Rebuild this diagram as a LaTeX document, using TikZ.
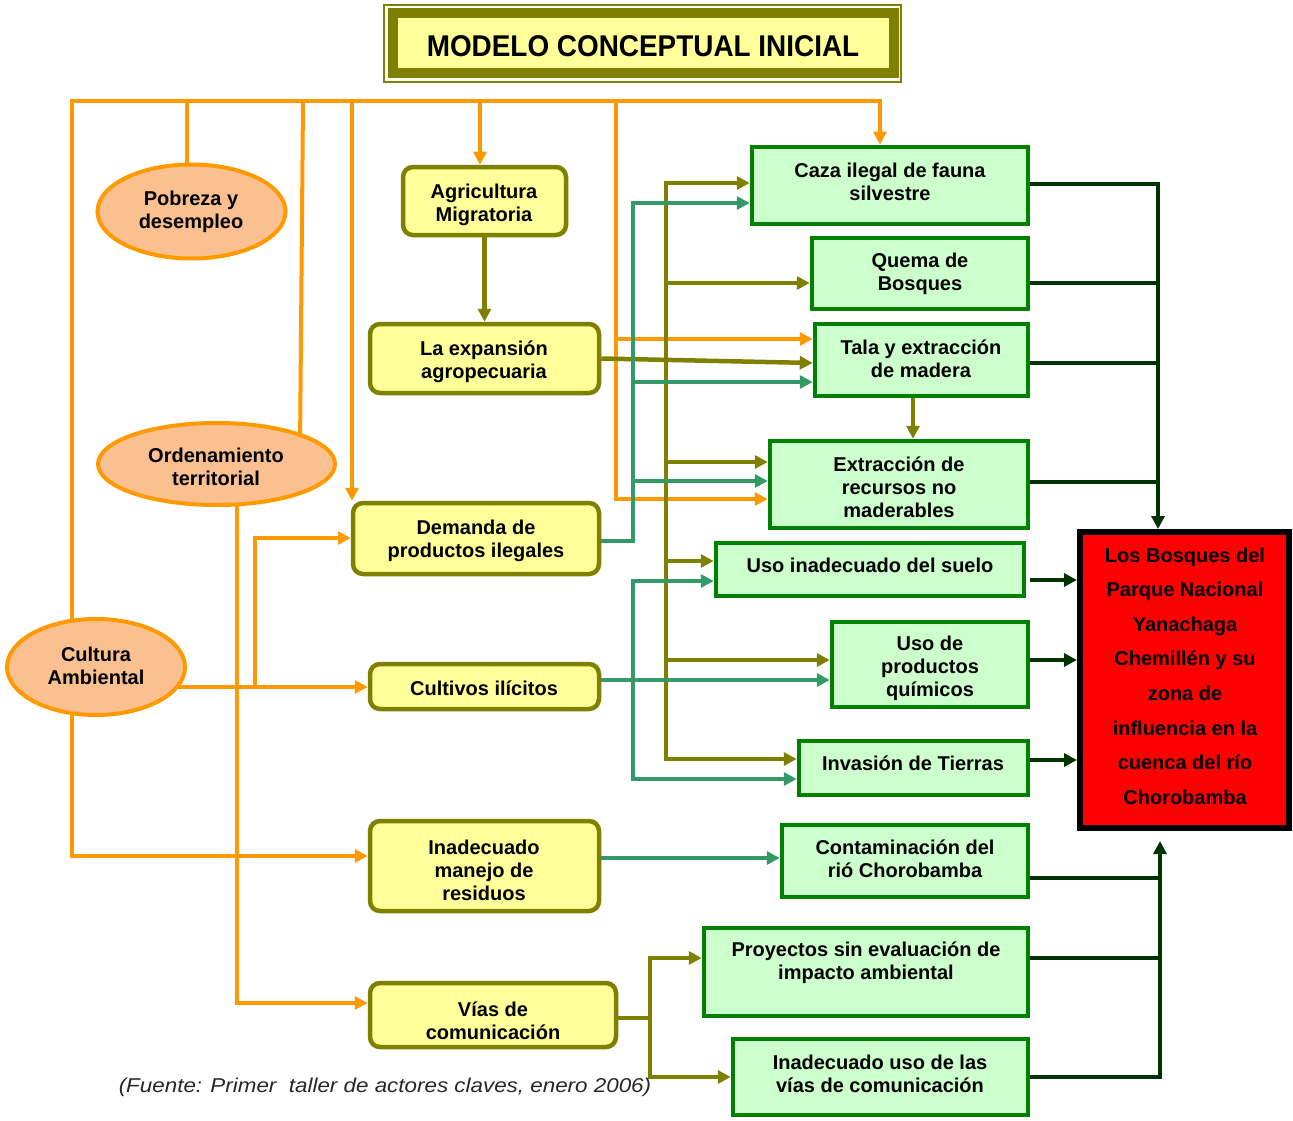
\documentclass[tikz,border=0pt]{standalone}
\usepackage{fontspec}
\setmainfont{Liberation Sans}
\newfontfamily\footfont{Liberation Sans}[FakeStretch=1.12]
\newfontfamily\titlefont{Liberation Sans}[FakeStretch=0.93]
\usetikzlibrary{arrows.meta,shapes.geometric,backgrounds,calc}
\definecolor{orng}{HTML}{FF9900}
\definecolor{peach}{HTML}{FAC090}
\definecolor{olv}{HTML}{808000}
\definecolor{ylw}{HTML}{FFFF99}
\definecolor{grn}{HTML}{008000}
\definecolor{lgrn}{HTML}{CCFFCC}
\definecolor{tealc}{HTML}{339966}
\definecolor{dgrn}{HTML}{003300}
\definecolor{redc}{HTML}{FF0000}
\begin{document}
\begin{tikzpicture}[x=1pt,y=-1pt,
  every node/.style={inner sep=0pt},
  txt/.style={font=\bfseries\fontsize{20}{23}\selectfont, align=center},
  redtxt/.style={font=\bfseries\fontsize{20}{34.6}\selectfont, align=center},
  ell/.style={ellipse, draw=orng, line width=4pt, fill=peach},
  ybox/.style={rectangle, rounded corners=10pt, draw=olv, line width=4.5pt, fill=ylw},
  gbox/.style={rectangle, draw=grn, line width=4.5pt, fill=lgrn},
  tip/.style={-{Triangle[length=13pt,width=13pt]}},
  oline/.style={draw=orng, line width=4pt},
  olline/.style={draw=olv, line width=4.5pt},
  tline/.style={draw=tealc, line width=3.8pt},
  dline/.style={draw=dgrn, line width=4pt}
]
\useasboundingbox (0,0) rectangle (1293,1121);

% title
\node[draw=olv, line width=2pt, minimum width=517pt, minimum height=77pt] (tframe) at (642.5,43.5) {};
\node[draw=olv, line width=10pt, fill=ylw, minimum width=501pt, minimum height=60pt] (title) at (643,43.5) {};
\node[font=\titlefont\bfseries\fontsize{30}{34}\selectfont] (titleT) at (643,46) {MODELO CONCEPTUAL INICIAL};

% ellipses
\node[ell, minimum width=188pt, minimum height=94pt] (pob) at (191.5,211.5) {};
\node[txt] (pobT) at (191,212) {Pobreza y\\desempleo};
\node[ell, minimum width=237pt, minimum height=82pt] (ord) at (216.5,464) {};
\node[txt] (ordT) at (216,466.5) {Ordenamiento\\territorial};
\node[ell, minimum width=178pt, minimum height=96pt] (cul) at (96,667) {};
\node[txt] (culT) at (96,665.5) {Cultura\\Ambiental};

% yellow boxes
\node[ybox, minimum width=163pt, minimum height=68pt] (agr) at (484.5,201) {};
\node[txt] (agrT) at (484,204.5) {Agricultura\\Migratoria};
\node[ybox, minimum width=229pt, minimum height=69pt] (exp) at (484.5,358.5) {};
\node[txt] (expT) at (484,361.5) {La expansión\\agropecuaria};
\node[ybox, minimum width=246pt, minimum height=71pt] (dem) at (476,538.5) {};
\node[txt] (demT) at (476,540.5) {Demanda de\\productos ilegales};
\node[ybox, minimum width=229pt, minimum height=45pt] (cult) at (484.5,686.5) {};
\node[txt] (cultT) at (484,688) {Cultivos ilícitos};
\node[ybox, minimum width=229pt, minimum height=90pt] (res) at (484.5,866) {};
\node[txt] (resT) at (484,870) {Inadecuado\\manejo de\\residuos};
\node[ybox, minimum width=246pt, minimum height=64pt] (vias) at (493,1015) {};
\node[txt] (viasT) at (493,1020.5) {Vías de\\comunicación};

% green boxes
\node[gbox, minimum width=276pt, minimum height=77pt] (caza) at (890,185.5) {};
\node[txt] (cazaT) at (890,182) {Caza ilegal de fauna\\silvestre};
\node[gbox, minimum width=216pt, minimum height=71pt] (quema) at (920,273.5) {};
\node[txt] (quemaT) at (920,273.5) {Quema de\\Bosques};
\node[gbox, minimum width=213pt, minimum height=72pt] (tala) at (921.5,360) {};
\node[txt] (talaT) at (921,358.5) {Tala y extracción\\de madera};
\node[gbox, minimum width=258pt, minimum height=87pt] (extr) at (899,484.5) {};
\node[txt] (extrT) at (899,487) {Extracción de\\recursos no\\maderables};
\node[gbox, minimum width=308pt, minimum height=53pt] (suelo) at (870,569.5) {};
\node[txt] (sueloT) at (870,565) {Uso inadecuado del suelo};
\node[gbox, minimum width=196pt, minimum height=85pt] (quim) at (930,664.5) {};
\node[txt] (quimT) at (930,668) {Uso de\\productos\\químicos};
\node[gbox, minimum width=229pt, minimum height=54pt] (inv) at (913.5,768) {};
\node[txt] (invT) at (913,763) {Invasión de Tierras};
\node[gbox, minimum width=246pt, minimum height=72pt] (cont) at (905,861) {};
\node[txt] (contT) at (905,859) {Contaminación del\\rió Chorobamba};
\node[gbox, minimum width=324pt, minimum height=88pt] (proy) at (866,972) {};
\node[txt] (proyT) at (866,962.5) {Proyectos sin evaluación de\\impacto ambiental};
\node[gbox, minimum width=295pt, minimum height=76pt] (uso) at (880.5,1077) {};
\node[txt] (usoT) at (880,1073.5) {Inadecuado uso de las\\vías de comunicación};

% red box
\node[rectangle, draw=black, line width=6pt, fill=redc, minimum width=209pt, minimum height=296pt] (bos) at (1184.5,680) {};
\node[redtxt] (bosT) at (1185,676) {Los Bosques del\\Parque Nacional\\Yanachaga\\Chemillén y su\\zona de\\influencia en la\\cuenca del río\\Chorobamba};

% source
\node[font=\footfont\itshape\fontsize{20}{24}\selectfont, text=black!85] (src) at (385,1087) {(Fuente: Primer\ \ taller de actores claves, enero 2006)};

% coordinates
\coordinate (busL) at (72,101);
\coordinate (busR) at (880,101);
\coordinate (b187) at (187,101);
\coordinate (b303) at (303,101);
\coordinate (b352) at (352,101);
\coordinate (b480) at (480,101);
\coordinate (b616) at (616,101);
\coordinate (o616a) at (616,339);
\coordinate (o616b) at (616,499);
\coordinate (ordIn) at (300,450);
\coordinate (culTop) at (72,650);
\coordinate (culR) at (150,687);
\coordinate (j255) at (255,687);
\coordinate (j255t) at (255,538);
\coordinate (ordB) at (237,470);
\coordinate (ordBot) at (237,1003);
\coordinate (culB) at (72,680);
\coordinate (culBot) at (72,856);
\coordinate (v1) at (666,183);
\coordinate (v2) at (666,283);
\coordinate (v3) at (666,462);
\coordinate (v4) at (666,561);
\coordinate (v5) at (666,660);
\coordinate (v6) at (666,759);
\coordinate (tb) at (913,400);
\coordinate (w0) at (650,1018);
\coordinate (w1) at (650,958);
\coordinate (w2) at (650,1077);
\coordinate (t1) at (633,203);
\coordinate (t2) at (633,382);
\coordinate (t3) at (633,481);
\coordinate (t4) at (633,541);
\coordinate (t5) at (633,581);
\coordinate (t6) at (633,779);
\coordinate (t7) at (601,680);
\coordinate (t8) at (601,858);
\coordinate (d1) at (1158,184);
\coordinate (d2) at (1158,283);
\coordinate (d3) at (1158,363);
\coordinate (d4) at (1158,482);
\coordinate (d5) at (1030,580);
\coordinate (d6) at (1030,660);
\coordinate (d7) at (1030,760);
\coordinate (e1) at (1160,878);
\coordinate (e2) at (1160,958);
\coordinate (e3) at (1160,1077);
\coordinate (eTop) at (1160,841);

\begin{scope}[on background layer]
% orange
\draw[oline,tip] (culTop) -- (busL) -- (busR) -- (busR |- caza.north);
\draw[oline] (b187) -- (b187 |- pob.center);
\draw[oline] (b303) -- (ordIn);
\draw[oline,tip] (b352) -- (b352 |- dem.north);
\draw[oline,tip] (b480) -- (b480 |- agr.north);
\draw[oline,tip] (b616) -- (o616b) -- (o616b -| extr.west);
\draw[oline,tip] (o616a) -- (o616a -| tala.west);
\draw[oline,tip] (culR) -- (culR -| cult.west);
\draw[oline,tip] (j255) -- (j255t) -- (j255t -| dem.west);
\draw[oline,tip] (ordB) -- (ordBot) -- (ordBot -| vias.west);
\draw[oline,tip] (culB) -- (culBot) -- (culBot -| res.west);
% olive
\draw[olline,tip] (agr.south) -- (exp.north);
\draw[olline,tip] (exp.east) -- ([yshift=-3pt]tala.west);
\draw[olline,tip] (v3) -- (v1) -- (v1 -| caza.west);
\draw[olline,tip] (v3) -- (v6) -- (v6 -| inv.west);
\draw[olline,tip] (v2) -- (v2 -| quema.west);
\draw[olline,tip] (v3) -- (v3 -| extr.west);
\draw[olline,tip] (v4) -- (v4 -| suelo.west);
\draw[olline,tip] (v5) -- (v5 -| quim.west);
\draw[olline,tip] (tala.south -| tb) -- (extr.north -| tb);
\draw[olline] (w0 -| vias.east) -- (w0);
\draw[olline,tip] (w2) -- (w1) -- (w1 -| proy.west);
\draw[olline,tip] (w0) -- (w2) -- (w2 -| uso.west);
% teal
\draw[tline,tip] (t4 -| dem.east) -- (t4) -- (t1) -- (t1 -| caza.west);
\draw[tline,tip] (t2) -- (t2 -| tala.west);
\draw[tline,tip] (t3) -- (t3 -| extr.west);
\draw[tline,tip] (t6) -- (t5) -- (t5 -| suelo.west);
\draw[tline,tip] (t5) -- (t6) -- (t6 -| inv.west);
\draw[tline,tip] (t7) -- (t7 -| quim.west);
\draw[tline,tip] (t8) -- (t8 -| cont.west);
% dark green
\draw[dline,tip] (d1 -| caza.east) -- (d1) -- (d1 |- bos.north);
\draw[dline] (d2 -| quema.east) -- (d2);
\draw[dline] (d3 -| tala.east) -- (d3);
\draw[dline] (d4 -| extr.east) -- (d4);
\draw[dline,tip] (d5) -- (d5 -| bos.west);
\draw[dline,tip] (d6) -- (d6 -| bos.west);
\draw[dline,tip] (d7) -- (d7 -| bos.west);
\draw[dline,tip] (e3 -| uso.east) -- (e3) -- (eTop);
\draw[dline] (e1 -| cont.east) -- (e1);
\draw[dline] (e2 -| proy.east) -- (e2);
\end{scope}
\end{tikzpicture}
\end{document}
